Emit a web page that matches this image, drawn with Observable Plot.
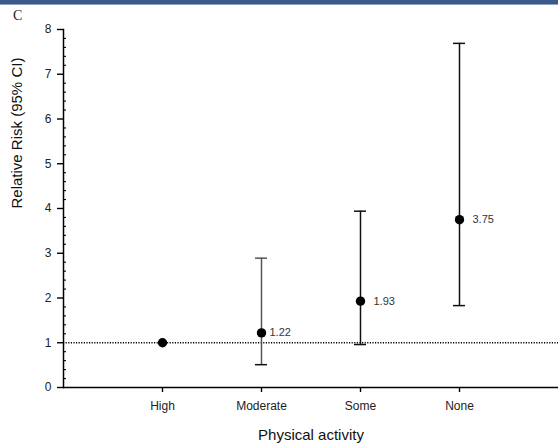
<!DOCTYPE html>
<html>
<head>
<meta charset="utf-8">
<script src="https://cdn.jsdelivr.net/npm/d3@7"></script>
<script src="https://cdn.jsdelivr.net/npm/@observablehq/plot@0.6"></script>
<style>
  html, body { margin: 0; padding: 0; background: #fff; }
  #wrap { position: relative; width: 558px; height: 447px; overflow: hidden; }
  #topbar { position: absolute; left: 0; top: 0; width: 558px; height: 4px; background: #3b588a; border-bottom: 1px solid #8ea3c4; }
  #panel { position: absolute; left: 13px; top: 8px; font-family: "Liberation Serif", serif; font-size: 14px; color: #222; }
</style>
</head>
<body>
<div id="wrap">
  <div id="chart"></div>
  <div id="topbar"></div>
  <div id="panel">C</div>
</div>
<script>
// Data
const categories = ["High", "Moderate", "Some", "None"];
const rr = [1.0, 1.22, 1.93, 3.75];
const lower = [null, 0.51, 0.96, 1.83];
const upper = [null, 2.89, 3.94, 7.69];
const valueLabels = ["", "1.22", "1.93", "3.75"];
const yTicks = [0, 1, 2, 3, 4, 5, 6, 7, 8];
const yMinorTicks = d3.range(0, 40).map(i => i / 5).filter(v => v % 1 !== 0);
const referenceLine = [1];

const rows = categories.map((c, i) => ({
  cat: c, rr: rr[i], lo: lower[i], hi: upper[i], label: valueLabels[i]
}));
const ciRows = rows.filter(d => d.lo != null);

const plot = Plot.plot({
  width: 558,
  height: 447,
  marginTop: 29,
  marginBottom: 60,
  marginLeft: 63,
  marginRight: 0,
  style: { fontFamily: "Liberation Sans, Arial, sans-serif", fontSize: "12px", color: "#111", background: "#fff" },
  x: { type: "point", domain: categories, padding: 1 },
  y: { domain: [0, 8] },
  marks: [
    Plot.ruleY(referenceLine, { stroke: "#000", strokeWidth: 1.3, strokeDasharray: "1.2,1.4" }),
    Plot.frame({ anchor: "left", stroke: "#000", strokeWidth: 1.5 }),
    Plot.frame({ anchor: "bottom", stroke: "#000", strokeWidth: 1.5 }),
    Plot.axisY({ ticks: yTicks, tickSize: 6, tickPadding: 6, label: null, fontSize: 12, fill: "#222", tickFormat: d3.format("d"), stroke: "#000", strokeWidth: 1.4 }),
    Plot.axisY({ ticks: yMinorTicks, tickSize: 3, dx: 3, label: null, tickFormat: () => "", stroke: "#000", strokeWidth: 1.1 }),
    Plot.axisX({ tickSize: 5, tickPadding: 9, label: null, fontSize: 12, fill: "#222", stroke: "#000", strokeWidth: 1.4 }),
    Plot.ruleX(ciRows, { x: "cat", y1: "lo", y2: "hi", stroke: d => d.cat === "Moderate" ? "#555" : "#111", strokeWidth: 1.5 }),
    Plot.ruleY(ciRows, { x1: "cat", x2: "cat", y: "lo", insetLeft: -6, insetRight: -6, stroke: "#111", strokeWidth: 1.5 }),
    Plot.ruleY(ciRows, { x1: "cat", x2: "cat", y: "hi", insetLeft: -6, insetRight: -6, stroke: d => d.cat === "Moderate" ? "#555" : "#111", strokeWidth: 1.5 }),
    Plot.dot(rows, { x: "cat", y: "rr", r: 4.7, fill: "#000", stroke: "none" }),
    Plot.text(rows.filter(d => d.cat === "Moderate"), { x: "cat", y: "rr", text: "label", dx: 8, textAnchor: "start", fontSize: 11, fill: "#333" }),
    Plot.text(rows.filter(d => d.cat === "Some" || d.cat === "None"), { x: "cat", y: "rr", text: "label", dx: 13, textAnchor: "start", fontSize: 11, fill: "#333" }),
    Plot.text(["Physical activity"], { frameAnchor: "bottom", dy: 52, fontSize: 15, fill: "#111" }),
    Plot.text(["Relative Risk (95% CI)"], { frameAnchor: "left", dx: -46, rotate: -90, fontSize: 15, fill: "#111" })
  ]
});
document.getElementById("chart").appendChild(plot);
</script>
</body>
</html>
